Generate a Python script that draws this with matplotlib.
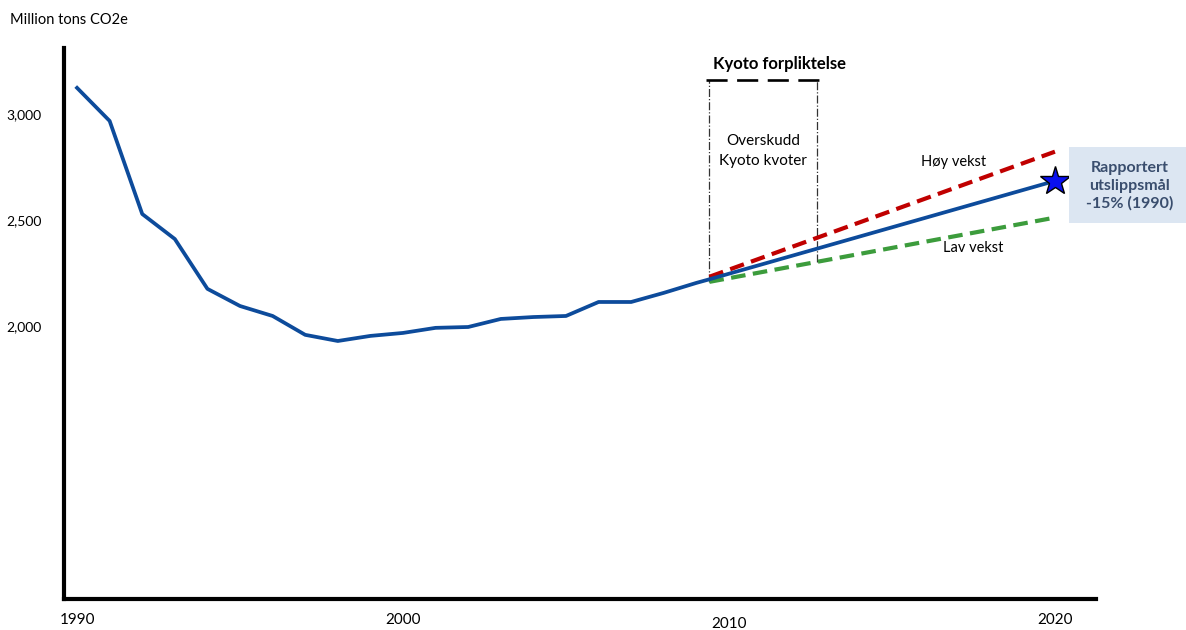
import numpy as np
import matplotlib
matplotlib.use("Agg")
from matplotlib import pyplot
from matplotlib.patches import Rectangle
from matplotlib.transforms import ScaledTranslation

pyplot.rcParams['font.family'] = ['Lato', 'DejaVu Sans']

# historical emissions, million tons CO2e
histYears = list(range(1990, 2010))
histValues = [3123, 2967, 2528, 2410, 2175, 2094, 2047, 1958, 1929, 1953,
              1967, 1991, 1995, 2033, 2042, 2047, 2113, 2113, 2156, 2203]

# projections to 2020
projYears = [2009.4, 2020]
projBase = [2220, 2684]
projHigh = [2232, 2822]
projLow = [2208, 2511]

kyotoStart = 2009.4
kyotoEnd = 2012.7
kyotoTop = 3160

yTicks = [2000, 2500, 3000]
xTicks = [1990, 2000, 2010, 2020]

blue = '#0d4b9b'
red = '#c00000'
green = '#3c9c3c'

figure = pyplot.figure(figsize=(11.86, 6.3), dpi=100)
axis = figure.add_axes([64/1186, 31/630, (1096-64)/1186, (599-48)/630])
axis.set_xlim(1989.6, 2021.26)
axis.set_ylim(712, 3311)

for side in ['top', 'right']:
	axis.spines[side].set_visible(False)
axis.spines['left'].set_linewidth(3)
axis.spines['bottom'].set_linewidth(3)

axis.set_yticks(yTicks)
axis.set_yticklabels(['{:,}'.format(v) for v in yTicks], fontsize=10)
axis.set_xticks(xTicks)
axis.set_xticklabels([str(v) for v in xTicks], fontsize=11)
axis.tick_params(axis='y', length=0, pad=16)
axis.tick_params(axis='x', length=0, pad=10)
# 2010 sits a bit lower
lab = axis.get_xticklabels()[2]
lab.set_transform(lab.get_transform() + ScaledTranslation(0, -3/72, figure.dpi_scale_trans))

figure.text(10/1186, 1 - 20/630, 'Million tons CO2e', fontsize=10.5, va='center', ha='left')

# Kyoto box
def lowAt(x):
	return np.interp(x, projYears, projLow)

axis.plot([kyotoStart, kyotoStart], [lowAt(kyotoStart), kyotoTop], color='#333333', lw=0.9, linestyle='-.')
axis.plot([kyotoEnd, kyotoEnd], [lowAt(kyotoEnd), kyotoTop], color='#333333', lw=0.9, linestyle='-.')
axis.plot([kyotoStart - 0.1, kyotoEnd + 0.2], [kyotoTop, kyotoTop], color='black', lw=1.9, dashes=(8, 3.6))
axis.text((kyotoStart + kyotoEnd) / 2 + 0.5, kyotoTop + 75, 'Kyoto forpliktelse', fontsize=12,
          fontweight='bold', ha='center', va='center')
axis.text((kyotoStart + kyotoEnd) / 2, 2825, 'Overskudd\nKyoto kvoter', fontsize=11,
          ha='center', va='center', linespacing=1.5)

# projections
axis.plot(projYears, projHigh, color=red, lw=3, dashes=(3.5, 1.8))
axis.plot(projYears, projLow, color=green, lw=3, dashes=(3.5, 1.8))
axis.plot(histYears + projYears, histValues + projBase, color=blue, lw=2.7, solid_joinstyle='round')
axis.plot(projYears[-1], projBase[-1], marker='*', markersize=22, markerfacecolor='#0a10f0',
          markeredgecolor='black', markeredgewidth=1, clip_on=False, zorder=5)

axis.text(2016.9, 2773, 'Høy vekst', fontsize=10.5, ha='center', va='center')
axis.text(2017.5, 2368, 'Lav vekst', fontsize=10.5, ha='center', va='center')

# target box
figure.patches.append(Rectangle((1069/1186, 1 - 223/630), (1186-1069)/1186, 76/630,
                                transform=figure.transFigure, facecolor='#dce6f2', edgecolor='none'))
figure.text(1130/1186, 1 - 186/630, 'Rapportert\nutslippsmål\n-15% (1990)', fontsize=11.5,
            fontweight='bold', color='#3a4e6e', ha='center', va='center', linespacing=1.3)

pyplot.savefig('out.png', dpi=100)
